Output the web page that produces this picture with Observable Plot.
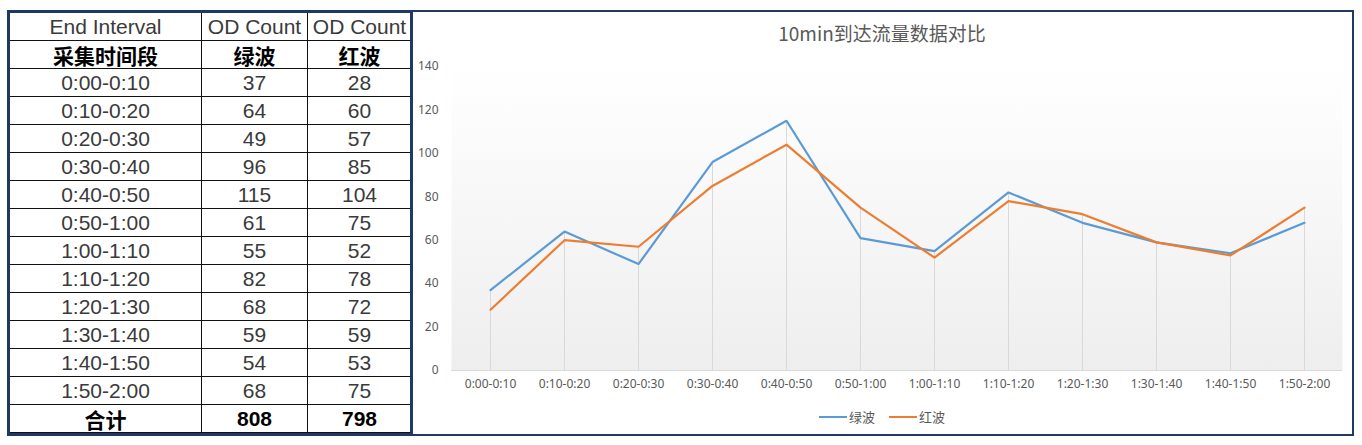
<!DOCTYPE html>
<html>
<head>
<meta charset="utf-8">
<script src="https://cdn.jsdelivr.net/npm/d3@7"></script>
<script src="https://cdn.jsdelivr.net/npm/@observablehq/plot@0.6"></script>
<style>
  html, body { margin: 0; padding: 0; background: #fff; width: 1362px; height: 445px; overflow: hidden; }
  body { position: relative; }
  #tablebox { position: absolute; left: 7px; top: 10px; width: 406px; height: 426px; box-sizing: border-box; border: 3px solid #1f3864; background: #fff; overflow: hidden; }
  #tablebox table { border-collapse: collapse; width: 402px; table-layout: fixed; margin-left: -1px; margin-top: -1px; }
  #tablebox tr { height: 28px; }
  #tablebox td { border: 1.5px solid #111; padding: 0; text-align: center; font-family: "Liberation Sans", Arial, "Noto Sans CJK SC", sans-serif; font-size: 21px; color: #3a3a3a; line-height: 24px; white-space: nowrap; overflow: hidden; }
  #tablebox tr.h1 td { color: #3a3a3a; font-weight: normal; }
  #tablebox tr.h2 td { color: #000; font-weight: bold; font-family: "Noto Sans CJK SC", sans-serif; font-size: 21px; }
  #tablebox tr.tot td { color: #000; font-weight: bold; }
  #tablebox tr.tot td.zh { font-family: "Noto Sans CJK SC", sans-serif; }
  #chartbox { position: absolute; left: 411px; top: 10px; width: 943px; height: 426px; box-sizing: border-box; border: 2px solid #1f3864; background: #fff; }
  #title { position: absolute; left: 412px; width: 940px; top: 20px; text-align: center; font-family: "Noto Sans CJK SC", sans-serif; font-size: 19px; color: #595959; line-height: 26px; }
  #chart { position: absolute; left: 412px; top: 50px; }
  #legend { position: absolute; left: 412px; width: 940px; top: 407px; display: flex; justify-content: center; align-items: center; gap: 14px; font-family: "Noto Sans CJK SC", sans-serif; font-size: 13px; color: #595959; }
  #legend .item { display: flex; align-items: center; gap: 2px; }
  #legend .sw { width: 28px; height: 2px; display: inline-block; }
</style>
</head>
<body>
<div id="tablebox"></div>
<div id="chartbox"></div>
<div id="title">10min到达流量数据对比</div>
<div id="chart"></div>
<div id="legend"></div>
<script>
// ---- data ----
const intervals = ["0:00-0:10","0:10-0:20","0:20-0:30","0:30-0:40","0:40-0:50","0:50-1:00","1:00-1:10","1:10-1:20","1:20-1:30","1:30-1:40","1:40-1:50","1:50-2:00"];
const greenWave = [37, 64, 49, 96, 115, 61, 55, 82, 68, 59, 54, 68];
const redWave   = [28, 60, 57, 85, 104, 75, 52, 78, 72, 59, 53, 75];
const seriesNames = ["绿波", "红波"];
const seriesColors = ["#5b9bd5", "#ed7d31"];
const headerRow1 = ["End Interval", "OD Count", "OD Count"];
const headerRow2 = ["采集时间段", "绿波", "红波"];
const totalLabel = "合计";
const yTicks = [0, 20, 40, 60, 80, 100, 120, 140];
const chartTitle = "10min到达流量数据对比";

// ---- table ----
const tbox = document.getElementById("tablebox");
const table = document.createElement("table");
const colg = document.createElement("colgroup");
[192, 106, 104].forEach(w => { const c = document.createElement("col"); c.style.width = w + "px"; colg.appendChild(c); });
table.appendChild(colg);
function addRow(cells, cls) {
  const tr = document.createElement("tr");
  if (cls) tr.className = cls;
  cells.forEach((c, i) => { const td = document.createElement("td"); td.textContent = c; if (cls === "tot" && i === 0) td.className = "zh"; tr.appendChild(td); });
  table.appendChild(tr);
}
addRow(headerRow1, "h1");
addRow(headerRow2, "h2");
intervals.forEach((t, i) => addRow([t, greenWave[i], redWave[i]]));
addRow([totalLabel, d3.sum(greenWave), d3.sum(redWave)], "tot");
tbox.appendChild(table);

// ---- chart ----
const rows = [];
intervals.forEach((t, i) => {
  rows.push({t, series: seriesNames[0], v: greenWave[i]});
  rows.push({t, series: seriesNames[1], v: redWave[i]});
});
const drops = intervals.map((t, i) => ({t, top: Math.max(greenWave[i], redWave[i])}));

const defs = () => {
  const g = d3.create("svg:defs");
  const lg = g.append("linearGradient").attr("id", "bgGrad").attr("x1", 0).attr("y1", 0).attr("x2", 0).attr("y2", 1);
  lg.append("stop").attr("offset", "0%").attr("stop-color", "#ffffff");
  lg.append("stop").attr("offset", "100%").attr("stop-color", "#eeeeef");
  return g.node();
};

const plot = Plot.plot({
  width: 940,
  height: 350,
  marginLeft: 39,
  marginRight: 10,
  marginTop: 16,
  marginBottom: 30,
  style: { fontFamily: "'Noto Sans', 'Noto Sans CJK SC', sans-serif", fontSize: "12px", color: "#595959", background: "transparent" },
  x: { type: "band", domain: intervals, padding: 0, label: null, tickSize: 0, tickPadding: 9 },
  y: { domain: [0, 140], ticks: yTicks, label: null, tickSize: 0, tickPadding: 13 },
  color: { domain: seriesNames, range: seriesColors },
  marks: [
    defs,
    Plot.frame({ fill: "url(#bgGrad)", stroke: null }),
    Plot.ruleX(drops, { x: "t", y1: 0, y2: "top", stroke: "#d9d9d9", strokeWidth: 1 }),
    Plot.ruleY([0], { stroke: "#d9d9d9", strokeWidth: 1 }),
    Plot.line(rows, { x: "t", y: "v", z: "series", stroke: "series", strokeWidth: 2.2, strokeLinejoin: "miter" })
  ]
});
document.getElementById("chart").appendChild(plot);

// ---- legend ----
const leg = document.getElementById("legend");
seriesNames.forEach((n, i) => {
  const it = document.createElement("div"); it.className = "item";
  const sw = document.createElement("span"); sw.className = "sw"; sw.style.background = seriesColors[i];
  const tx = document.createElement("span"); tx.textContent = n;
  it.appendChild(sw); it.appendChild(tx); leg.appendChild(it);
});
document.getElementById("title").textContent = chartTitle;
</script>
</body>
</html>
